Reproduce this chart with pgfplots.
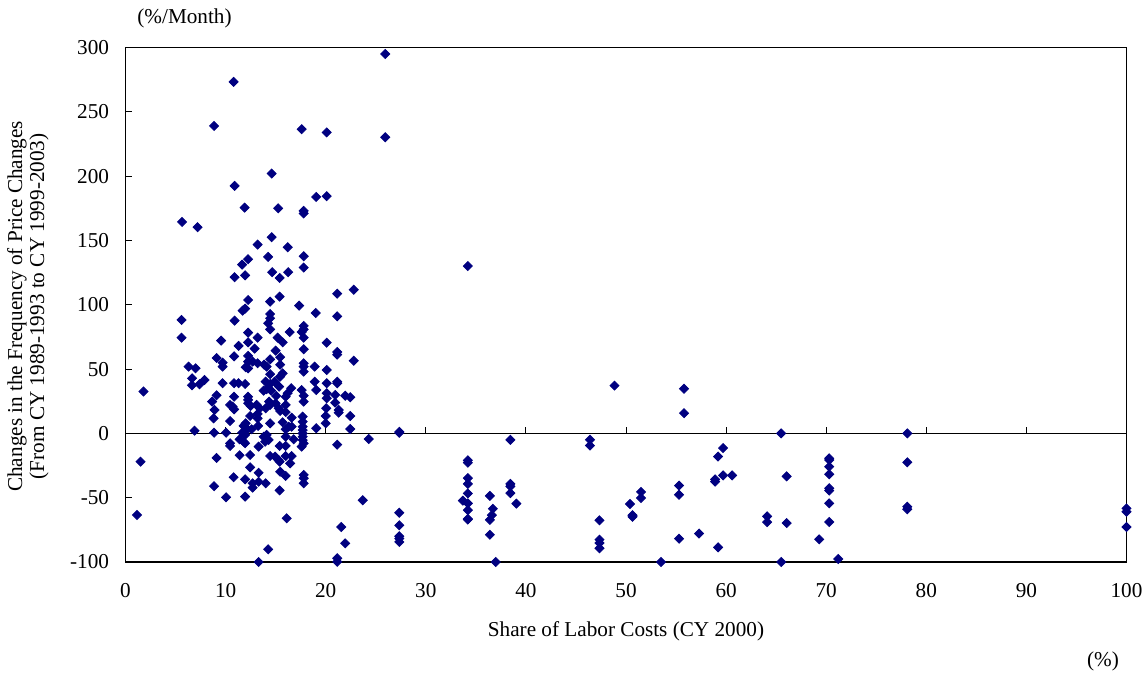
\documentclass[border=0pt]{standalone}
\usepackage{pgfplots}
\pgfplotsset{compat=1.18}
\usepackage{fontspec}
\setmainfont{Liberation Serif}
\definecolor{navy}{RGB}{0,0,128}
\pgfplotstableread{
x y
1.15 -63.4
1.5 -22
1.8 32.5
5.65 164.4
7.2 160.3
5.6 88.2
5.6 74.4
10.8 273.3
8.85 239
17.6 236.5
20.1 234
14.6 202
10.9 192.4
11.9 175.5
15.25 175
17.8 173
17.8 171
19.05 183.8
20.1 184.4
14.6 152.5
25.95 295
25.95 230.2
13.2 146.8
16.2 144.7
14.25 137.2
17.8 137.7
12.25 135.4
11.65 131.2
14.65 125.3
16.25 125.3
17.8 128.9
10.9 121.4
11.95 122.9
15.4 120.8
21.15 108.6
22.8 111.7
12.25 103.7
14.45 102.4
15.4 106.3
17.35 99.3
11.7 95.4
11.95 97
19.0 93.6
21.15 91
10.9 87.6
14.45 92.8
14.45 89.5
14.25 85.6
14.45 80.9
17.8 83.5
17.8 80.9
16.4 78.8
12.25 78.3
9.55 72.1
13.2 74.4
15.2 74.4
15.7 70.8
17.6 78.8
17.8 74.4
12.25 70.8
11.3 68
20.1 70.5
12.9 65.9
15.0 64.3
17.8 65.4
21.15 63.3
21.15 61.2
9.1 58.6
10.85 59.9
12.25 60.2
12.25 55.8
12.7 55.8
13.2 54.5
13.85 53.4
14.45 57.6
15.45 59.2
15.45 53.4
14.1 51.9
12.25 50.6
12.0 51.4
9.7 55
9.7 51.9
6.3 51.9
7.0 50.6
17.8 54.5
17.8 51.9
17.8 48
18.9 51.9
20.1 49.3
22.8 56.5
6.65 42.8
6.65 37.4
7.4 38.2
7.9 41.5
9.7 39
10.85 39
11.3 39
11.95 38.4
9.1 29.6
10.85 28.5
12.25 28.5
14.45 46
15.7 46.7
15.45 44.1
14.0 40.2
14.45 38.4
14.9 40.2
15.35 36.3
14.1 34.3
14.55 33.2
13.8 33.2
16.55 35.1
16.2 31.2
16.0 28.5
17.6 33.7
17.8 29.3
18.9 40.2
19.05 33.7
20.1 39
20.1 31.2
20.1 27.3
21.15 40.2
21.15 39
20.95 29.9
21.95 29.3
22.45 28.1
8.65 24.7
8.9 18.2
8.8 11.7
10.45 22.1
10.7 20.8
10.85 18.7
10.45 9.6
6.9 2.1
8.85 0.5
10.05 0.5
12.25 26
12.25 23.4
12.5 21.3
13.1 22.1
13.4 19.5
13.2 15.1
13.2 11.7
12.45 13.5
12.0 7.8
11.8 5.8
12.2 3.2
12.6 3.2
13.25 5.8
11.65 0.5
11.95 -1.2
14.0 19.5
14.45 22.1
15.0 23.4
15.3 19.5
15.45 17.4
16.0 16.6
16.0 22.1
15.05 29.1
14.35 24.7
14.45 7.8
15.7 8.6
16.0 3.2
16.3 5.2
16.6 5.2
16.6 12.2
16.0 -2.6
17.7 13
17.7 9.1
17.7 5.2
17.7 2.6
17.7 0
17.7 -2.6
17.7 -5.2
17.8 -7.7
17.6 -10.3
17.8 24.7
20.05 19.5
20.0 13.5
20.0 7.8
19.05 4
20.95 23.9
21.3 18.2
21.3 16.1
22.45 13.5
22.45 3.4
21.15 -8.8
24.3 -4.4
23.7 -52
21.55 -72.8
21.95 -85.5
21.15 -97.1
21.15 -99.8
14.25 -90.1
13.3 -100
16.1 -66
10.05 -49.7
11.95 -49.2
8.85 -41.1
9.1 -19.1
10.45 -7.7
10.45 -9.8
11.4 -4.6
11.8 -6.5
11.95 -7.7
11.4 -17
12.45 -16.8
12.45 -26.4
10.8 -34.1
11.95 -35.7
12.7 -38.8
12.7 -42.2
13.3 -30.6
13.3 -37.6
14.0 -38.8
13.3 -10.3
13.8 -2.6
14.1 -1.2
14.3 -5.1
13.95 -6.5
14.45 -17.6
14.95 -18.1
15.3 -20.7
15.4 -22
16.0 -17.6
16.6 -17.6
16.45 -23.3
15.4 -9.8
16.0 -9.8
15.45 -29.8
16.0 -33.1
15.4 -44.3
17.8 -32.3
17.8 -34.9
17.8 -38.8
16.8 -4.6
27.35 0.4
27.35 1.2
38.45 -5
46.4 -5
46.4 -9.5
27.35 -61.7
27.35 -71.5
27.35 -80
27.35 -81.8
27.35 -84.4
34.2 130.1
34.2 -20.9
34.2 -22.8
34.2 -34.8
34.2 -39.3
34.2 -46.7
33.7 -52.3
34.2 -54.4
34.2 -59.7
34.2 -66.5
34.2 -67
36.4 -48.6
36.7 -58.6
36.6 -63.6
36.4 -67.2
36.4 -78.8
36.98 -100
38.45 -39.3
38.45 -41.2
38.45 -46.4
39.05 -54.6
47.35 -67.6
47.35 -82.6
47.35 -85.2
47.35 -89.3
48.85 37.1
55.8 34.7
55.8 15.7
50.4 -54.9
50.65 -63.6
50.65 -64.9
51.5 -45.5
51.5 -50.2
53.5 -100
55.3 -40.6
55.3 -47.7
55.3 -81.9
57.3 -77.9
59.2 -18
59.7 -11.4
58.9 -35.8
58.9 -37.5
59.7 -32.7
60.6 -32.7
59.2 -88.6
64.1 -64.5
64.1 -69
65.5 0
65.5 -100
66.05 -33.4
66.05 -69.7
69.3 -82.4
70.3 -19.4
70.3 -20.7
70.3 -25.9
70.3 -31.8
70.3 -42.7
70.3 -44.5
70.3 -54.4
70.3 -68.9
71.2 -97.7
78.1 0
78.1 -22.5
78.1 -57
78.1 -59
100 -58.3
100 -60.9
100 -72.8
}\pts
\begin{document}
\fontsize{10.6pt}{12.5pt}\selectfont
\begin{tikzpicture}
\useasboundingbox (-62.75pt,-55.5pt) rectangle (509.25pt,281pt);
\begin{axis}[
  scale only axis,
  width=500.5pt, height=257.25pt,
  xmin=0, xmax=100, ymin=-100, ymax=300,
  xtick={0,10,...,100}, ytick={-100,-50,...,300},
  xtick style={draw=none},
  ytick style={line width=0.5pt, black},
  major tick length=3pt,
  tick align=inside,
  ytick pos=left,
  axis line style={line width=0.9pt},
  /pgf/number format/assume math mode=true,
  ticklabel style={font=\fontsize{10.6pt}{12.5pt}\selectfont},
  yticklabel style={xshift=-4.5pt},
  xticklabel style={yshift=-7pt},
  clip=false,
  xlabel={Share of Labor Costs (CY 2000)},
  ylabel={Changes in the Frequency of Price Changes\\(From CY 1989-1993 to CY 1999-2003)},
  every axis x label/.style={at={(axis description cs:0.5,0)}, anchor=center, yshift=-34.5pt, font=\fontsize{10.6pt}{12.5pt}\selectfont},
  every axis y label/.style={at={(axis description cs:-0.0974,0.497)}, anchor=center, rotate=90, align=center, font=\fontsize{10.6pt}{11pt}\selectfont},
]
\addplot[black, line width=0.5pt, no marks, forget plot] coordinates {(0,0) (100,0)};
\pgfplotsinvokeforeach{10,20,30,40,50,60,70,80,90}{
  \draw[black, line width=0.5pt] (axis cs:#1,0) -- ++(0pt,3.3pt);
}
\addplot[only marks, mark=square*, mark size=1.6pt, mark options={rotate=45, fill=navy, draw=navy}] table[x=x, y=y] {\pts};
\node[font=\fontsize{10.6pt}{12.5pt}\selectfont] at (rel axis cs:0,1) [xshift=29.5pt, yshift=14.75pt] {(\%/Month)};
\node[font=\fontsize{10.6pt}{12.5pt}\selectfont] at (rel axis cs:1,0) [xshift=-11.75pt, yshift=-49.5pt] {(\%)};
\end{axis}
\end{tikzpicture}
\end{document}
